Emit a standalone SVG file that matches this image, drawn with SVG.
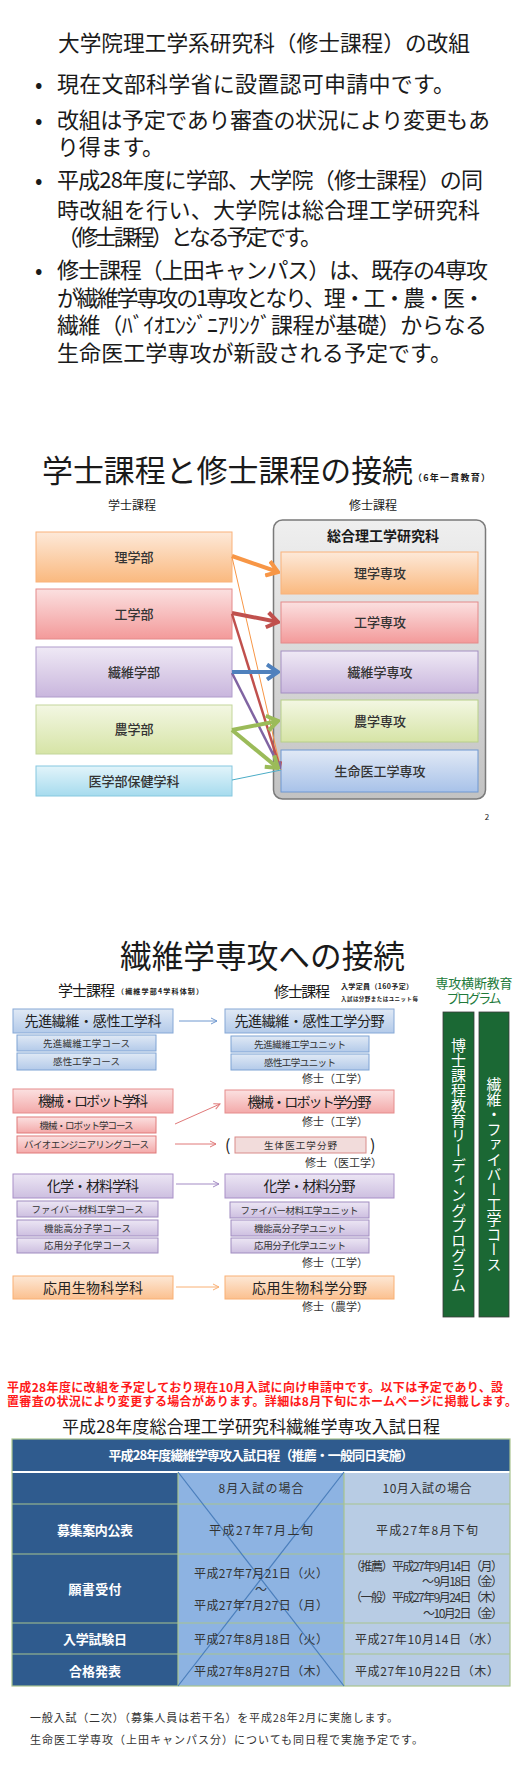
<svg xmlns="http://www.w3.org/2000/svg" width="524" height="1767" viewBox="0 0 524 1767">
<style>
text{font-family:'Noto Sans CJK JP','Noto Sans CJK SC',sans-serif;fill:#1a1a1a}
.b1{font-size:22px}
.s2l{font-size:13px;fill:#333;text-anchor:middle;font-weight:500}
.s3big{font-size:14px;fill:#222;text-anchor:middle}
.s3sm{font-size:9.5px;fill:#333;text-anchor:middle}
.deg{font-size:11px;fill:#333;text-anchor:end}
.tw{font-size:13px;fill:#fff;font-weight:bold;text-anchor:middle}
.td{font-size:12px;fill:#333;text-anchor:middle}
.tdr{font-size:12px;fill:#333;text-anchor:end}
.foot{font-size:11px;fill:#333}
.red{font-size:12px;fill:#ff1a1a;font-weight:bold}
.grn{font-size:13px;fill:#217a3a;text-anchor:middle}
.vt{font-size:15px;fill:#fff;writing-mode:vertical-rl}
</style>
<defs>
<linearGradient id="gOr" x1="0" y1="0" x2="0" y2="1"><stop offset="0" stop-color="#fde9d9"/><stop offset="1" stop-color="#fab97f"/></linearGradient>
<linearGradient id="gRd" x1="0" y1="0" x2="0" y2="1"><stop offset="0" stop-color="#fbe0e0"/><stop offset="1" stop-color="#f39a9a"/></linearGradient>
<linearGradient id="gPu" x1="0" y1="0" x2="0" y2="1"><stop offset="0" stop-color="#efe9f5"/><stop offset="1" stop-color="#c9b6dd"/></linearGradient>
<linearGradient id="gGr" x1="0" y1="0" x2="0" y2="1"><stop offset="0" stop-color="#f3f7e3"/><stop offset="1" stop-color="#d6e4a6"/></linearGradient>
<linearGradient id="gCy" x1="0" y1="0" x2="0" y2="1"><stop offset="0" stop-color="#e2f4fa"/><stop offset="1" stop-color="#a6dbee"/></linearGradient>
<linearGradient id="gBl" x1="0" y1="0" x2="0" y2="1"><stop offset="0" stop-color="#e1e9f5"/><stop offset="1" stop-color="#a8c2e9"/></linearGradient>
<linearGradient id="gGy" x1="0" y1="0" x2="0" y2="1"><stop offset="0" stop-color="#efefef"/><stop offset="1" stop-color="#c2c2c2"/></linearGradient>
<linearGradient id="g3B" x1="0" y1="0" x2="0" y2="1"><stop offset="0" stop-color="#e0e9f5"/><stop offset="1" stop-color="#b3cae9"/></linearGradient>
<linearGradient id="g3R" x1="0" y1="0" x2="0" y2="1"><stop offset="0" stop-color="#fbe1e1"/><stop offset="1" stop-color="#f3a9a9"/></linearGradient>
<linearGradient id="g3P" x1="0" y1="0" x2="0" y2="1"><stop offset="0" stop-color="#ece6f4"/><stop offset="1" stop-color="#cdbfe0"/></linearGradient>
<linearGradient id="g3O" x1="0" y1="0" x2="0" y2="1"><stop offset="0" stop-color="#fde8d6"/><stop offset="1" stop-color="#fbc08f"/></linearGradient>
<marker id="mOr" viewBox="0 0 14 18" refX="12" refY="9" markerWidth="14" markerHeight="18" markerUnits="userSpaceOnUse" orient="auto"><path d="M1,1.5 L12,9 L1,16.5" fill="none" stroke="#f79646" stroke-width="4"/></marker>
<marker id="mRd" viewBox="0 0 14 18" refX="12" refY="9" markerWidth="14" markerHeight="18" markerUnits="userSpaceOnUse" orient="auto"><path d="M1,1.5 L12,9 L1,16.5" fill="none" stroke="#c0504d" stroke-width="4"/></marker>
<marker id="mBl" viewBox="0 0 14 18" refX="12" refY="9" markerWidth="14" markerHeight="18" markerUnits="userSpaceOnUse" orient="auto"><path d="M1,1.5 L12,9 L1,16.5" fill="none" stroke="#4f81bd" stroke-width="4"/></marker>
<marker id="mGr" viewBox="0 0 14 18" refX="12" refY="9" markerWidth="14" markerHeight="18" markerUnits="userSpaceOnUse" orient="auto"><path d="M1,1.5 L12,9 L1,16.5" fill="none" stroke="#9bbb59" stroke-width="4"/></marker>
<marker id="mRd2" viewBox="0 0 8 8" refX="7" refY="4" markerWidth="8" markerHeight="8" markerUnits="userSpaceOnUse" orient="auto"><path d="M1,1 L7,4 L1,7" fill="none" stroke="#c0504d" stroke-width="2"/></marker>
<marker id="mPu2" viewBox="0 0 8 8" refX="7" refY="4" markerWidth="8" markerHeight="8" markerUnits="userSpaceOnUse" orient="auto"><path d="M1,1 L7,4 L1,7" fill="none" stroke="#8064a2" stroke-width="2"/></marker>
<marker id="a3B" viewBox="0 0 8 8" refX="7" refY="4" markerWidth="8" markerHeight="8" markerUnits="userSpaceOnUse" orient="auto"><path d="M1,1 L7,4 L1,7" fill="none" stroke="#6f98cf" stroke-width="1"/></marker>
<marker id="a3R" viewBox="0 0 8 8" refX="7" refY="4" markerWidth="8" markerHeight="8" markerUnits="userSpaceOnUse" orient="auto"><path d="M1,1 L7,4 L1,7" fill="none" stroke="#e07878" stroke-width="1"/></marker>
<marker id="a3P" viewBox="0 0 8 8" refX="7" refY="4" markerWidth="8" markerHeight="8" markerUnits="userSpaceOnUse" orient="auto"><path d="M1,1 L7,4 L1,7" fill="none" stroke="#a38bc4" stroke-width="1"/></marker>
<marker id="a3O" viewBox="0 0 8 8" refX="7" refY="4" markerWidth="8" markerHeight="8" markerUnits="userSpaceOnUse" orient="auto"><path d="M1,1 L7,4 L1,7" fill="none" stroke="#f9b074" stroke-width="1"/></marker>
</defs>
<rect width="524" height="1767" fill="#fff"/>

<!-- Section 1 -->
<g id="sec1">
<text x="58" y="51" font-size="21.5" textLength="412" lengthAdjust="spacingAndGlyphs">大学院理工学系研究科（修士課程）の改組</text>
<text class="b1" x="35" y="92">•</text>
<text class="b1" x="57" y="92" textLength="398">現在文部科学省に設置認可申請中です。</text>
<text class="b1" x="35" y="128">•</text>
<text class="b1" x="57" y="128" textLength="433">改組は予定であり審査の状況により変更もあ</text>
<text class="b1" x="57" y="155" textLength="107">り得ます。</text>
<text class="b1" x="35" y="188">•</text>
<text class="b1" x="57" y="188" textLength="426">平成28年度に学部、大学院（修士課程）の同</text>
<text class="b1" x="57" y="218" textLength="423">時改組を行い、大学院は総合理工学研究科</text>
<text class="b1" x="57" y="245" textLength="265">（修士課程）となる予定です。</text>
<text class="b1" x="35" y="278">•</text>
<text class="b1" x="57" y="278" textLength="431">修士課程（上田キャンパス）は、既存の4専攻</text>
<text class="b1" x="57" y="306" textLength="428">が繊維学専攻の1専攻となり、理・工・農・医・</text>
<text class="b1" x="57" y="333" textLength="430">繊維（ﾊﾞｲｵｴﾝｼﾞﾆｱﾘﾝｸﾞ課程が基礎）からなる</text>
<text class="b1" x="57" y="361" textLength="395">生命医工学専攻が新設される予定です。</text>
</g>

<!-- Section 2 -->
<g id="sec2-title">
<text x="42" y="482" font-size="31" textLength="371" lengthAdjust="spacingAndGlyphs">学士課程と修士課程の接続</text>
<text x="413" y="481" font-size="9" font-weight="bold" fill="#333" textLength="77">（6年一貫教育）</text>
<text x="132" y="510" font-size="12" text-anchor="middle" fill="#333">学士課程</text>
<text x="373" y="510" font-size="12" text-anchor="middle" fill="#333">修士課程</text>
</g>
<g id="container">
<rect x="273.5" y="520" width="212" height="279" rx="9" fill="url(#gGy)" stroke="#7a7a7a" stroke-width="1.5"/>
<text x="383" y="541" font-size="14" font-weight="bold" text-anchor="middle" fill="#222">総合理工学研究科</text>
</g>
<g id="u-ri"><rect x="36" y="532" width="196" height="50" fill="url(#gOr)" stroke="#fab27a"/><text class="s2l" x="134" y="561.5">理学部</text></g>
<g id="u-ko"><rect x="36" y="589" width="196" height="50" fill="url(#gRd)" stroke="#e48a8a"/><text class="s2l" x="134" y="618.5">工学部</text></g>
<g id="u-se"><rect x="36" y="647" width="196" height="50" fill="url(#gPu)" stroke="#b09ccb"/><text class="s2l" x="134" y="676.5">繊維学部</text></g>
<g id="u-no"><rect x="36" y="705" width="196" height="49" fill="url(#gGr)" stroke="#c3d69b"/><text class="s2l" x="134" y="734">農学部</text></g>
<g id="u-ig"><rect x="36" y="766" width="196" height="30" fill="url(#gCy)" stroke="#86c8df"/><text class="s2l" x="134" y="785.5">医学部保健学科</text></g>
<g id="m-ri"><rect x="281" y="552" width="197" height="42" fill="url(#gOr)" stroke="#fab27a"/><text class="s2l" x="380" y="577.5">理学専攻</text></g>
<g id="m-ko"><rect x="281" y="602" width="197" height="41" fill="url(#gRd)" stroke="#e48a8a"/><text class="s2l" x="380" y="627">工学専攻</text></g>
<g id="m-se"><rect x="281" y="651" width="197" height="42" fill="url(#gPu)" stroke="#a38fc2"/><text class="s2l" x="380" y="676.5">繊維学専攻</text></g>
<g id="m-no"><rect x="281" y="700" width="197" height="42" fill="url(#gGr)" stroke="#b8d08a"/><text class="s2l" x="380" y="725.5">農学専攻</text></g>
<g id="m-sm"><rect x="281" y="750" width="197" height="42" fill="url(#gBl)" stroke="#6f98d2"/><text class="s2l" x="380" y="775.5">生命医工学専攻</text></g>
<g id="connectors2" fill="none">
<line x1="232" y1="557" x2="281" y2="770" stroke="#f79646" stroke-width="1"/>
<line x1="232" y1="614" x2="280" y2="768" stroke="#c0504d" stroke-width="2.5" marker-end="url(#mRd2)"/>
<line x1="232" y1="673" x2="280" y2="768" stroke="#8064a2" stroke-width="2.5" marker-end="url(#mPu2)"/>
<line x1="232" y1="780" x2="281" y2="770" stroke="#4bacc6" stroke-width="1"/>
<line x1="232" y1="556" x2="278" y2="572" stroke="#f79646" stroke-width="4" marker-end="url(#mOr)"/>
<line x1="232" y1="613" x2="278" y2="622" stroke="#c0504d" stroke-width="4" marker-end="url(#mRd)"/>
<line x1="232" y1="672" x2="278" y2="672" stroke="#4f81bd" stroke-width="4" marker-end="url(#mBl)"/>
<line x1="232" y1="730" x2="278" y2="721" stroke="#9bbb59" stroke-width="4" marker-end="url(#mGr)"/>
<line x1="232" y1="730" x2="278" y2="768" stroke="#9bbb59" stroke-width="4" marker-end="url(#mGr)"/>
</g>
<text x="487" y="820" font-size="8" fill="#aaa" text-anchor="middle">2</text>

<!-- Section 3 -->
<g id="sec3-title">
<text x="120" y="968" font-size="32" textLength="285" lengthAdjust="spacingAndGlyphs">繊維学専攻への接続</text>
<text x="58" y="996" font-size="15" fill="#222" textLength="57">学士課程</text>
<text x="117" y="994" font-size="7" font-weight="bold" fill="#444" textLength="86">（繊維学部4学科体制）</text>
<text x="274" y="997" font-size="15" fill="#222" textLength="56">修士課程</text>
<text x="341" y="989" font-size="7" font-weight="bold" fill="#444" textLength="72">入学定員（160予定）</text>
<text x="341" y="1001" font-size="5.5" font-weight="bold" fill="#444" textLength="77">入試は分野またはユニット毎</text>
</g>
<g id="b-sensen"><rect x="13" y="1009" width="160" height="24" fill="url(#g3B)" stroke="#86a8d6"/><text class="s3big" x="93" y="1026" textLength="137">先進繊維・感性工学科</text></g>
<g id="b-sensen-c1"><rect x="17" y="1035" width="139" height="16" fill="url(#g3B)" stroke="#7ea3d4"/><text class="s3sm" x="86.5" y="1046.5" textLength="87">先進繊維工学コース</text></g>
<g id="b-sensen-c2"><rect x="17" y="1053" width="139" height="17" fill="url(#g3B)" stroke="#7ea3d4"/><text class="s3sm" x="86.5" y="1065" textLength="67">感性工学コース</text></g>
<g id="b-kikai"><rect x="13" y="1089" width="160" height="24" fill="url(#g3R)" stroke="#e58c8c"/><text class="s3big" x="93" y="1106" textLength="110">機械・ロボット学科</text></g>
<g id="b-kikai-c1"><rect x="17" y="1117" width="139" height="16" fill="url(#g3R)" stroke="#e07a7a"/><text class="s3sm" x="86.5" y="1128.5" textLength="94">機械・ロボット学コース</text></g>
<g id="b-kikai-c2"><rect x="17" y="1136" width="139" height="17" fill="url(#g3R)" stroke="#e07a7a"/><text class="s3sm" x="86.5" y="1148" textLength="125">バイオエンジニアリングコース</text></g>
<g id="b-kagaku"><rect x="13" y="1174" width="160" height="24" fill="url(#g3P)" stroke="#a990c8"/><text class="s3big" x="93" y="1191" textLength="92">化学・材料学科</text></g>
<g id="b-kagaku-c1"><rect x="17" y="1201" width="141" height="16" fill="url(#g3P)" stroke="#a08cc0"/><text class="s3sm" x="87.5" y="1212.5" textLength="112">ファイバー材料工学コース</text></g>
<g id="b-kagaku-c2"><rect x="17" y="1220" width="141" height="16" fill="url(#g3P)" stroke="#a08cc0"/><text class="s3sm" x="87.5" y="1231.5" textLength="87">機能高分子学コース</text></g>
<g id="b-kagaku-c3"><rect x="17" y="1238" width="141" height="15" fill="url(#g3P)" stroke="#a08cc0"/><text class="s3sm" x="87.5" y="1249" textLength="87">応用分子化学コース</text></g>
<g id="b-oyo"><rect x="13" y="1276" width="160" height="23" fill="url(#g3O)" stroke="#f9b074"/><text class="s3big" x="93" y="1292.5" textLength="100">応用生物科学科</text></g>

<g id="m-sensen"><rect x="225" y="1009" width="169" height="24" fill="url(#g3B)" stroke="#86a8d6"/><text class="s3big" x="309.5" y="1026" textLength="150">先進繊維・感性工学分野</text></g>
<g id="m-sensen-u1"><rect x="231" y="1036" width="138" height="16" fill="url(#g3B)" stroke="#7ea3d4"/><text class="s3sm" x="300" y="1047.5" textLength="92">先進繊維工学ユニット</text></g>
<g id="m-sensen-u2"><rect x="231" y="1054" width="138" height="16" fill="url(#g3B)" stroke="#7ea3d4"/><text class="s3sm" x="300" y="1065.5" textLength="72">感性工学ユニット</text></g>
<text class="deg" x="368" y="1083">修士（工学）</text>
<g id="m-kikai"><rect x="225" y="1090" width="169" height="23" fill="url(#g3R)" stroke="#e58c8c"/><text class="s3big" x="309.5" y="1106.5" textLength="124">機械・ロボット学分野</text></g>
<text class="deg" x="368" y="1126">修士（工学）</text>
<g id="m-seitai">
<text x="225" y="1151" font-size="16" fill="#222">(</text>
<rect x="235" y="1137" width="131" height="16" fill="#f2dcdb" stroke="#d98c8a"/><text class="s3sm" x="300.5" y="1148.5" textLength="73">生体医工学分野</text>
<text x="370" y="1151" font-size="16" fill="#222">)</text>
</g>
<text class="deg" x="382" y="1167">修士（医工学）</text>
<g id="m-kagaku"><rect x="225" y="1174" width="169" height="24" fill="url(#g3P)" stroke="#a990c8"/><text class="s3big" x="309.5" y="1191" textLength="92">化学・材料分野</text></g>
<g id="m-kagaku-u1"><rect x="230" y="1202" width="139" height="16" fill="url(#g3P)" stroke="#a08cc0"/><text class="s3sm" x="299.5" y="1213.5" textLength="118">ファイバー材料工学ユニット</text></g>
<g id="m-kagaku-u2"><rect x="231" y="1220" width="138" height="16" fill="url(#g3P)" stroke="#a08cc0"/><text class="s3sm" x="300" y="1231.5" textLength="92">機能高分子学ユニット</text></g>
<g id="m-kagaku-u3"><rect x="231" y="1238" width="138" height="15" fill="url(#g3P)" stroke="#a08cc0"/><text class="s3sm" x="300" y="1249" textLength="92">応用分子化学ユニット</text></g>
<text class="deg" x="368" y="1267">修士（工学）</text>
<g id="m-oyo"><rect x="225" y="1276" width="169" height="23" fill="url(#g3O)" stroke="#f9b074"/><text class="s3big" x="309.5" y="1292.5" textLength="115">応用生物科学分野</text></g>
<text class="deg" x="368" y="1311">修士（農学）</text>

<g id="connectors3" fill="none">
<line x1="179" y1="1021" x2="217" y2="1021" stroke="#6f98cf" stroke-width="1" marker-end="url(#a3B)"/>
<line x1="175" y1="1124" x2="220" y2="1104" stroke="#e07878" stroke-width="1" marker-end="url(#a3R)"/>
<line x1="175" y1="1144" x2="216" y2="1144" stroke="#e07878" stroke-width="1" marker-end="url(#a3R)"/>
<line x1="176" y1="1184" x2="219" y2="1184" stroke="#a38bc4" stroke-width="1" marker-end="url(#a3P)"/>
<line x1="176" y1="1287" x2="219" y2="1287" stroke="#f9b074" stroke-width="1" marker-end="url(#a3O)"/>
</g>

<g id="program">
<text class="grn" x="474" y="988" textLength="77">専攻横断教育</text>
<text class="grn" x="474" y="1003" textLength="55">プログラム</text>
</g>
<g id="bar-hakase"><rect x="443" y="1012" width="31" height="305" fill="#1b6834" stroke="#3a3a3a" stroke-width="0.8"/><text class="vt" x="458.5" y="1038">博士課程教育リーディングプログラム</text></g>
<g id="bar-fiber"><rect x="479" y="1012" width="30" height="305" fill="#1b6834" stroke="#3a3a3a" stroke-width="0.8"/><text class="vt" x="494" y="1077" font-size="14">繊維・ファイバー工学コース</text></g>

<!-- Section 4 -->
<g id="notice">
<text class="red" x="7" y="1392" textLength="496">平成28年度に改組を予定しており現在10月入試に向け申請中です。以下は予定であり、設</text>
<text class="red" x="7" y="1406" textLength="510">置審査の状況により変更する場合があります。詳細は8月下旬にホームページに掲載します。</text>
<text x="62" y="1433" font-size="17" fill="#222" textLength="378">平成28年度総合理工学研究科繊維学専攻入試日程</text>
</g>
<g id="table">
<rect x="12" y="1439" width="498" height="32" fill="#2f5b8e"/>
<rect x="12" y="1473" width="166" height="213" fill="#2f5b8e"/>
<rect x="178" y="1473" width="166" height="213" fill="#8db3e2"/>
<rect x="344" y="1473" width="166" height="213" fill="#b8cce4"/>
<g stroke="#a8c48e" stroke-width="1.2">
<line x1="12" y1="1504" x2="510" y2="1504"/>
<line x1="12" y1="1554" x2="510" y2="1554"/>
<line x1="12" y1="1623" x2="510" y2="1623"/>
<line x1="12" y1="1654" x2="510" y2="1654"/>
<line x1="178" y1="1473" x2="178" y2="1686"/>
<line x1="344" y1="1473" x2="344" y2="1686"/>
<rect x="12" y="1439" width="498" height="247" fill="none"/>
</g>
<line x1="178" y1="1472" x2="344" y2="1686" stroke="#4a7ebb" stroke-width="1.2"/>
<line x1="344" y1="1472" x2="178" y2="1686" stroke="#4a7ebb" stroke-width="1.2"/>
<text class="tw" x="261" y="1459.5" font-size="12" textLength="305">平成28年度繊維学専攻入試日程（推薦・一般同日実施）</text>
<text class="td" x="261" y="1492.5" textLength="85">8月入試の場合</text>
<text class="td" x="427" y="1492.5" textLength="89">10月入試の場合</text>
<text class="tw" x="95" y="1534.5" textLength="76">募集案内公表</text>
<text class="td" x="261" y="1534.5" textLength="104">平成27年7月上旬</text>
<text class="td" x="427" y="1534.5" textLength="102">平成27年8月下旬</text>
<text class="tw" x="95" y="1593.5" textLength="53">願書受付</text>
<text class="td" x="261" y="1577.5" textLength="134">平成27年7月21日（火）</text>
<text class="td" x="261" y="1593.5">～</text>
<text class="td" x="261" y="1609.5" textLength="134">平成27年7月27日（月）</text>
<text class="tdr" x="503" y="1570.5" textLength="153">（推薦）平成27年9月14日（月）</text>
<text class="tdr" x="503" y="1585.5" textLength="81">～ 9月18日（金）</text>
<text class="tdr" x="503" y="1601.5" textLength="153">（一般）平成27年9月24日（木）</text>
<text class="tdr" x="503" y="1617.5" textLength="80">～10月2日（金）</text>
<text class="tw" x="95" y="1643.5" textLength="64">入学試験日</text>
<text class="td" x="261" y="1643.5" textLength="134">平成27年8月18日（火）</text>
<text class="td" x="427" y="1643.5" textLength="144">平成27年10月14日（水）</text>
<text class="tw" x="95" y="1675.5" textLength="52">合格発表</text>
<text class="td" x="261" y="1675.5" textLength="134">平成27年8月27日（木）</text>
<text class="td" x="427" y="1675.5" textLength="144">平成27年10月22日（木）</text>
</g>
<g id="footer">
<text class="foot" x="30" y="1722" textLength="368">一般入試（二次）（募集人員は若干名）を平成28年2月に実施します。</text>
<text class="foot" x="30" y="1744" textLength="393">生命医工学専攻（上田キャンパス分）についても同日程で実施予定です。</text>
</g>
</svg>
